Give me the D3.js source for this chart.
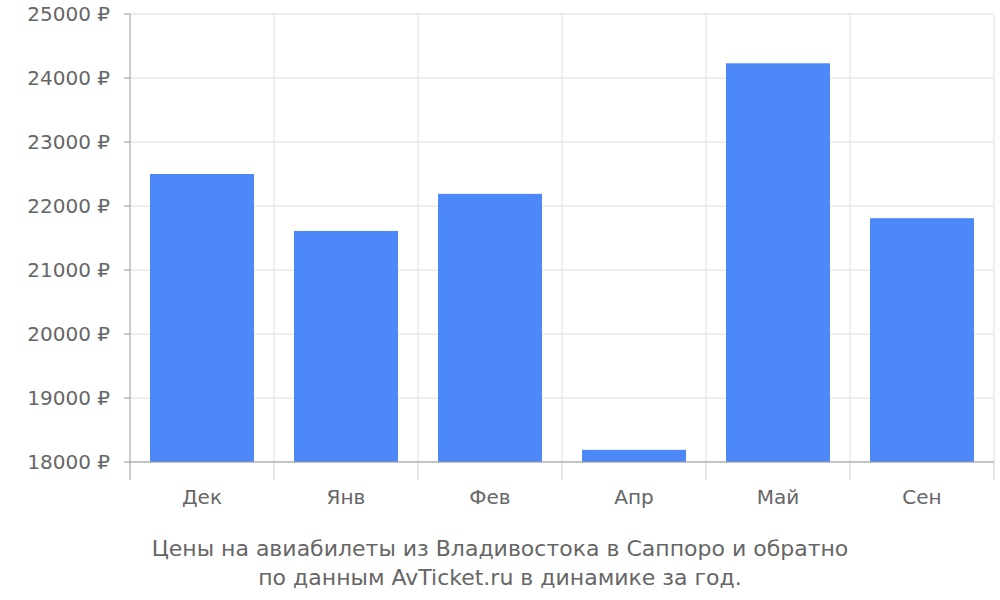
<!DOCTYPE html>
<html><head><meta charset="utf-8">
<script src="https://cdn.jsdelivr.net/npm/d3@7"></script>
<style>body{margin:0;background:#fff}</style></head>
<body><svg id="c" width="1000" height="600"></svg>
<script>
const categories = ["Дек","Янв","Фев","Апр","Май","Сен"];
const prices = [22500, 21610, 22190, 18190, 24230, 21810];
const yTicks = [18000,19000,20000,21000,22000,23000,24000,25000];
const titleLines = ["Цены на авиабилеты из Владивостока в Саппоро и обратно","по данным AvTicket.ru в динамике за год."];

const svg = d3.select("#c");
const font = "DejaVu Sans, sans-serif";
const L=130, R=994, T=14, B=462;
const x = d3.scaleBand().domain(categories).range([L,R]).paddingInner(0.278).paddingOuter(0.139);
const y = d3.scaleLinear().domain([18000,25000]).range([B,T]);
const step = x.step();

// grid
svg.append("g").selectAll("line").data(yTicks).join("line")
  .attr("x1",L).attr("x2",R).attr("y1",d=>y(d)).attr("y2",d=>y(d)).attr("stroke","#dddddd");
const bounds = d3.range(categories.length+1).map(i=>L+i*step);
svg.append("g").selectAll("line").data(bounds.slice(1)).join("line")
  .attr("x1",d=>d).attr("x2",d=>d).attr("y1",T).attr("y2",B).attr("stroke","#dddddd");

// bars
svg.append("g").selectAll("rect").data(prices).join("rect")
  .attr("x",(d,i)=>x(categories[i])).attr("width",x.bandwidth())
  .attr("y",d=>y(d)).attr("height",d=>B-y(d)).attr("fill","#4d88f9");

// axes
svg.append("line").attr("x1",L).attr("x2",L).attr("y1",T).attr("y2",480).attr("stroke","#999");
svg.append("line").attr("x1",L).attr("x2",R).attr("y1",B).attr("y2",B).attr("stroke","#999");
svg.append("g").selectAll("line").data(bounds.slice(1)).join("line")
  .attr("x1",d=>d).attr("x2",d=>d).attr("y1",B).attr("y2",480).attr("stroke","#ccc");
svg.append("g").selectAll("line").data(yTicks).join("line")
  .attr("x1",L-6).attr("x2",L).attr("y1",d=>y(d)).attr("y2",d=>y(d)).attr("stroke","#999");

svg.append("g").selectAll("text").data(yTicks).join("text")
  .attr("x",110).attr("y",d=>y(d)).attr("dy","0.35em").attr("text-anchor","end")
  .attr("font-family",font).attr("font-size",20).attr("fill","#666").text(d=>d+" ₽");
svg.append("g").selectAll("text").data(categories).join("text")
  .attr("x",d=>x(d)+x.bandwidth()/2).attr("y",497).attr("dy","0.35em").attr("text-anchor","middle")
  .attr("font-family",font).attr("font-size",20).attr("fill","#666").text(d=>d);

svg.append("g").selectAll("text").data(titleLines).join("text")
  .attr("x",500).attr("y",(d,i)=>548+i*29).attr("dy","0.35em").attr("text-anchor","middle")
  .attr("font-family",font).attr("font-size",22).attr("fill","#666").text(d=>d);
</script></body></html>
